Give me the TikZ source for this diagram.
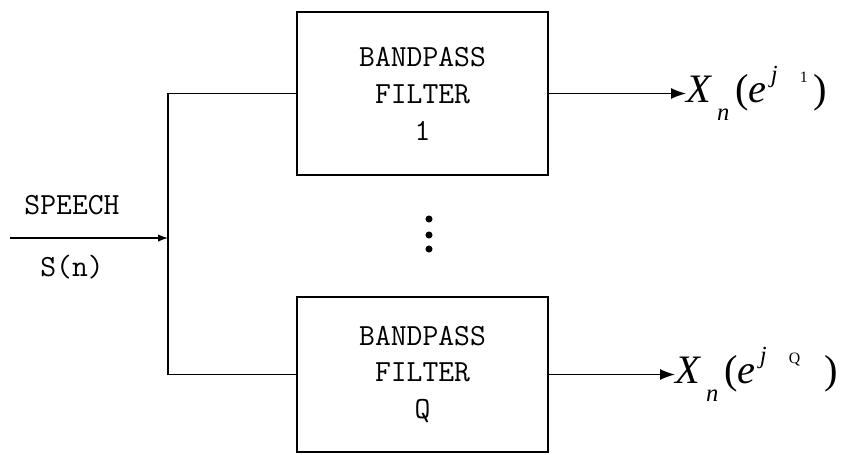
\documentclass[tikz,border=0pt]{standalone}
\usepackage{fontspec}
\setmainfont{Liberation Serif}
\usetikzlibrary{arrows.meta,positioning}

\begin{document}
\begin{tikzpicture}[
    x=0.02cm, y=-0.02cm,
    font=\ttfamily\fontsize{17.5}{21}\selectfont,
    >=Latex,
]

\tikzset{
    filter_box/.style = {rectangle, draw=black, thick, minimum width=5.02cm,
                         align=center, inner sep=0pt},
    wire/.style = {thick},
    arrow/.style = {thick, -{Latex[length=3mm, width=2.2mm]}},
    in_arrow/.style = {thick, -{Latex[length=2mm, width=1.5mm]}},
    out_label/.style = {anchor=west, inner sep=0pt, font=\fontsize{23}{24}\selectfont},
    dot/.style = {circle, fill=black, inner sep=0pt, minimum size=4pt}
}

\useasboundingbox (0,0) rectangle (848,454);

% =========== FILTER BANK ===========
\node[filter_box, minimum height=3.26cm] (filter_1) at (422.5, 93.5) {BANDPASS\\FILTER\\1};
\node[filter_box, minimum height=3.1cm] (filter_q) at (422.5, 374.5) {BANDPASS\\FILTER\\Q};

% vertical dots between the filters
\foreach \y [count=\i] in {219, 235, 249}
    \node[dot] (dot_\i) at (429, \y) {};

% =========== INPUT ===========
\coordinate (in_start) at (10, 238);
\coordinate (split) at (168, 238);

\node (speech) at (72, 205) {SPEECH};
\node (s_n) at (72, 267) {S(n)};

\draw[in_arrow] (in_start) -- (split);
\draw[wire] (filter_1.west) -| (split) |- (filter_q.west);

% =========== OUTPUTS ===========
\node[out_label] (out_1) at (686, 93.5)
    {\itshape X\hspace{0.15em}\raisebox{-0.45em}{\fontsize{14}{14}\selectfont n}\hspace{0.15em}\upshape(\itshape e\hspace{0.1em}\raisebox{0.5em}{\fontsize{14}{14}\selectfont j\hspace{0.9em}\upshape\fontsize{9}{9}\selectfont 1}\hspace{0.15em}\upshape)};
\node[out_label] (out_q) at (675, 374.5)
    {\itshape X\hspace{0.15em}\raisebox{-0.45em}{\fontsize{14}{14}\selectfont n}\hspace{0.15em}\upshape(\itshape e\hspace{0.1em}\raisebox{0.5em}{\fontsize{14}{14}\selectfont j\hspace{0.9em}\upshape\fontsize{9}{9}\selectfont Q}\hspace{0.6em}\upshape)};

\draw[arrow] (filter_1.east) -- (out_1.west);
\draw[arrow] (filter_q.east) -- (out_q.west);

\end{tikzpicture}
\end{document}
